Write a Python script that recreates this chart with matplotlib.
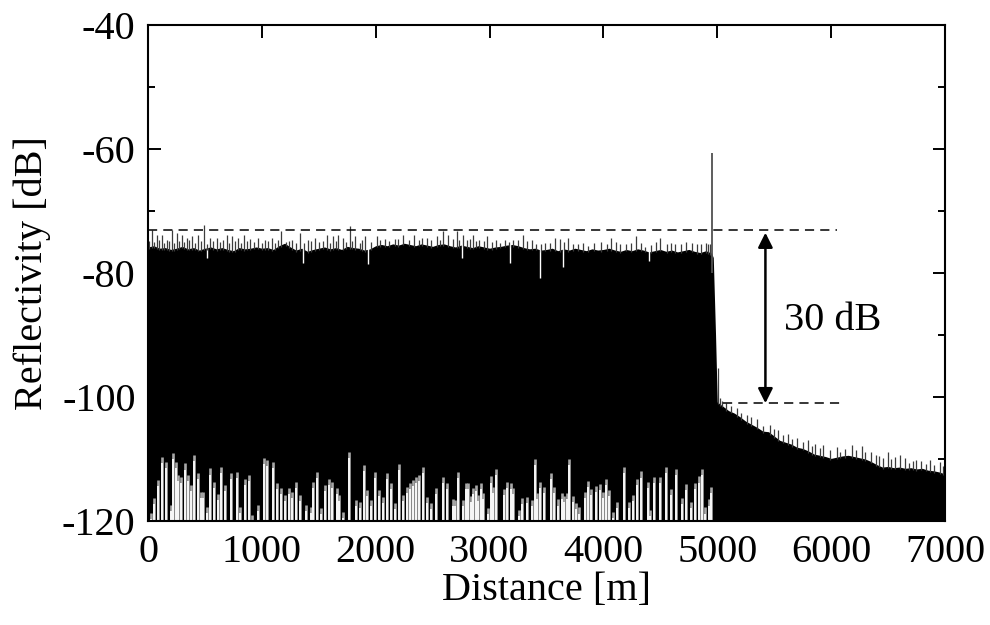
import numpy as np
import matplotlib.pyplot as plt

plt.rcParams['font.family'] = ['Liberation Serif', 'DejaVu Serif']
plt.rcParams['axes.unicode_minus'] = False

# upper edge of the noise floor, read every 50 m (0 .. 4950 m)
body_db = [
    -75.8, -75.6, -76.0, -75.9, -76.2, -76.0, -75.7, -76.1, -75.9, -76.3,
    -76.0, -75.8, -76.1, -75.9, -76.2, -76.4, -75.9, -76.1, -76.0, -75.8,
    -76.0, -75.9, -76.2, -75.6, -75.2, -75.8, -76.3, -76.0, -76.5, -76.2,
    -76.0, -75.8, -76.1, -75.9, -76.2, -75.7, -75.9, -76.0, -76.3, -76.1,
    -75.6, -75.4, -75.6, -75.3, -75.5, -75.2, -75.4, -75.6, -75.3, -75.5,
    -75.7, -75.4, -75.3, -75.6, -75.8, -75.5, -75.7, -75.9, -75.6, -75.8,
    -76.0, -75.8, -75.7, -75.5, -75.4, -75.6, -75.9, -76.1, -76.0, -76.3,
    -76.2, -76.0, -76.4, -76.1, -76.3, -76.0, -76.2, -76.4, -76.1, -76.3,
    -76.2, -76.0, -76.3, -76.5, -76.2, -76.4, -76.1, -76.3, -76.6, -76.4,
    -76.2, -76.5, -76.3, -76.6, -76.4, -76.2, -76.5, -76.7, -76.4, -76.8,
]
# fiber end (sharp drop)
edge_dist = [4965, 4985]
edge_db = [-77.5, -90.0]
# after the fiber end, every 50 m (5000 .. 7000 m)
tail_db = [
    -100.8, -101.5, -102.2, -102.6, -103.2, -103.9, -104.4, -104.9, -105.5, -105.6,
    -106.3, -107.0, -107.3, -107.6, -108.1, -108.3, -108.7, -109.2, -109.4, -109.6,
    -109.9, -109.7, -109.5, -109.4, -109.6, -109.8, -110.0, -110.4, -110.9, -111.3,
    -111.2, -111.4, -111.3, -111.5, -111.4, -111.6, -111.5, -111.8, -111.9, -112.1,
    -112.4,
]

# thin peaks sticking out above the floor
spike_dist = [
    12, 32, 55, 76, 98, 120, 142, 164, 186, 208, 230, 252, 274, 296, 318, 340,
    362, 384, 410, 436, 465, 495, 520, 544, 575, 603, 630, 660, 691, 715, 740,
    765, 793, 820, 846, 870, 896, 930, 969, 1000, 1027, 1055, 1086, 1115, 1140,
    1168, 1210, 1235, 1261, 1300, 1334, 1370, 1408, 1435, 1466, 1500, 1540, 1569,
    1600, 1627, 1650, 1671, 1715, 1740, 1773, 1795, 1817, 1860, 1880, 1905, 1960,
    2013, 2040, 2081, 2120, 2168, 2200, 2241, 2290, 2335, 2380, 2410, 2452, 2490,
    2535, 2565, 2593, 2637, 2680, 2710, 2735, 2763, 2800, 2830, 2856, 2880, 2909,
    2950, 2979, 3020, 3055, 3095, 3134, 3170, 3207, 3250, 3295, 3330, 3369, 3410,
    3450, 3485, 3530, 3573, 3617, 3650, 3690, 3730, 3780, 3820, 3866, 3920, 3983,
    4030, 4071, 4110, 4144, 4200, 4240, 4284, 4330, 4363, 4420, 4460, 4495, 4560,
    4590, 4627, 4680, 4729, 4780, 4820, 4861, 4900, 4920, 4940,
    5004, 5020, 5040, 5080, 5120, 5171, 5210, 5260, 5300, 5350, 5400, 5461, 5500,
    5531, 5580, 5620, 5660, 5700, 5750, 5795, 5830, 5860, 5900, 5926, 5990, 6049,
    6080, 6120, 6181, 6220, 6269, 6300, 6350, 6390, 6420, 6460, 6497, 6530, 6560,
    6602, 6646, 6680, 6720, 6750, 6790, 6830, 6866, 6900, 6953, 6980,
]
spike_db = [
    -74.8, -73.1, -75.0, -73.9, -74.6, -73.9, -75.2, -74.7, -74.9, -73.1, -75.1,
    -73.6, -74.8, -73.9, -75.0, -74.4, -74.6, -74.1, -75.2, -73.9, -74.9, -72.2,
    -75.3, -74.3, -74.8, -74.4, -75.0, -74.7, -73.8, -75.1, -74.0, -74.9, -74.4,
    -75.2, -73.8, -74.8, -74.5, -75.0, -74.3, -75.1, -74.7, -74.9, -74.4, -75.2,
    -74.6, -73.3, -75.0, -74.8, -74.7, -75.1, -73.6, -75.2, -74.7, -74.9, -74.4,
    -75.0, -74.8, -73.9, -75.1, -74.1, -74.9, -73.8, -74.4, -75.0, -72.4, -74.8,
    -74.1, -75.2, -74.7, -74.1, -75.0, -74.1, -74.6, -74.5, -74.8, -74.5, -74.5,
    -73.9, -74.7, -73.9, -74.6, -74.4, -74.4, -74.7, -74.0, -74.6, -73.2, -73.9,
    -74.5, -73.2, -74.7, -73.9, -74.6, -74.5, -73.9, -74.8, -74.7, -74.9, -74.1,
    -75.0, -74.7, -75.1, -74.7, -75.0, -74.7, -74.7, -73.8, -74.9, -74.7, -75.3,
    -75.4, -75.1, -75.2, -74.3, -74.5, -75.0, -74.4, -75.3, -75.4, -75.2, -75.6,
    -75.1, -75.0, -75.3, -74.3, -75.0, -75.3, -75.4, -75.1, -74.1, -75.2, -75.8,
    -75.5, -75.0, -74.3, -75.4, -75.1, -75.3, -75.3, -75.0, -75.2, -75.4, -75.3,
    -75.1, -75.4, -75.3,
    -95.3, -100.2, -100.6, -100.9, -101.4, -101.8, -102.6, -102.9, -103.3, -103.6,
    -104.6, -104.5, -105.2, -105.3, -106.2, -106.0, -106.7, -106.6, -107.3, -106.9,
    -107.9, -107.6, -108.3, -107.7, -108.6, -108.1, -108.8, -108.4, -107.7, -108.6,
    -107.9, -108.9, -108.8, -109.3, -109.5, -109.9, -108.9, -110.0, -109.6, -109.4,
    -109.9, -110.6, -110.3, -110.2, -110.4, -110.8, -110.2, -111.0, -110.5, -111.2,
]
# reflection peak at the fiber end
peak_dist = 4957
peak_db = -60.6

# narrow dips below the floor edge
dip_dist = [515, 1360, 1930, 2760, 3178, 3440, 3644, 4400]
dip_db = [-77.6, -78.4, -78.5, -77.6, -78.4, -80.8, -79.0, -78.0]

# white gaps near the bottom of the trace
gap_dist = [
    26, 55, 85, 126, 155, 199, 222, 246, 266, 290, 325, 354, 377, 407, 442, 465,
    486, 521, 544, 579, 617, 641, 676, 729, 779, 808, 852, 887, 910, 969, 1021,
    1042, 1100, 1130, 1168, 1203, 1238, 1261, 1296, 1334, 1384, 1428, 1452, 1487,
    1519, 1554, 1589, 1613, 1657, 1680, 1715, 1768, 1826, 1861, 1896, 1920, 1958,
    1993, 2030, 2060, 2101, 2130, 2168, 2207, 2242, 2271, 2300, 2324, 2353, 2382,
    2417, 2452, 2490, 2529, 2587, 2628, 2675, 2695, 2724, 2768, 2792, 2812, 2833,
    2856, 2880, 2900, 2924, 2944, 2988, 3011, 3032, 3055, 3126, 3155, 3184, 3202,
    3260, 3281, 3330, 3377, 3398, 3418, 3442, 3477, 3544, 3565, 3597, 3632, 3656,
    3676, 3699, 3729, 3755, 3787, 3837, 3866, 3895, 3939, 3974, 3998, 4021, 4050,
    4080, 4120, 4179, 4223, 4261, 4296, 4326, 4392, 4413, 4442, 4495, 4548, 4598,
    4642, 4691, 4729, 4773, 4808, 4840, 4866, 4890, 4928, 4949,
]
gap_db = [
    -118.7, -116.3, -113.4, -109.7, -110.5, -117.4, -109.0, -110.5, -112.6, -112.9,
    -110.7, -112.6, -114.2, -109.4, -112.3, -115.3, -115.3, -117.7, -111.5, -113.7,
    -115.6, -111.3, -114.2, -112.3, -112.1, -117.7, -113.2, -112.6, -119.0, -117.4,
    -109.8, -110.2, -110.5, -113.9, -114.7, -115.8, -114.7, -115.3, -113.7, -115.8,
    -117.4, -117.7, -113.7, -112.1, -117.9, -114.2, -113.2, -113.7, -114.7, -115.8,
    -118.5, -108.8, -116.6, -116.9, -111.0, -115.0, -116.6, -112.1, -115.0, -116.1,
    -112.3, -113.9, -117.1, -110.8, -115.8, -114.5, -113.9, -113.4, -112.9, -112.6,
    -111.3, -116.1, -117.1, -114.7, -112.9, -113.9, -116.5, -116.6, -112.1, -116.6,
    -113.9, -113.9, -116.0, -114.7, -114.2, -115.8, -113.9, -115.5, -117.9, -112.8,
    -114.5, -111.6, -114.8, -113.7, -113.9, -114.7, -118.2, -116.3, -116.1, -116.6,
    -110.0, -115.5, -113.7, -114.5, -112.3, -114.5, -116.5, -115.5, -116.0, -115.5,
    -110.0, -116.0, -117.1, -117.8, -115.3, -113.5, -114.8, -114.4, -114.0, -115.3,
    -113.2, -115.0, -118.5, -116.9, -111.3, -116.9, -115.8, -113.2, -112.0, -113.7,
    -118.2, -112.9, -112.9, -111.3, -114.8, -111.6, -116.3, -114.0, -116.9, -113.9,
    -112.8, -111.6, -117.8, -116.5, -114.5,
]

upper_ref = -73.0
lower_ref = -101.0

dist = np.concatenate([np.arange(0, 5000, 50), edge_dist, np.arange(5000, 7001, 50)])
trace = np.concatenate([body_db, edge_db, tail_db])

fig = plt.figure(figsize=(9.9, 6.25), dpi=100)
ax = fig.add_axes([0.1495, 0.1664, 0.805, 0.7936])

ax.fill_between(dist, trace, -120, color='black', lw=0, zorder=1)
ax.vlines(dip_dist, dip_db, -73.5, color='white', lw=1.0, zorder=2)
# peaks start from the floor edge so they only show above it
spike_base = np.interp(spike_dist, dist, trace) - 0.3
ax.vlines(spike_dist, spike_base, spike_db, color='#3c3c3c', lw=0.9, zorder=2)
ax.vlines(peak_dist, -80, peak_db, color='#505050', lw=1.3, zorder=2)
ax.vlines(gap_dist, -120, gap_db, color='#a8a8a8', lw=1.9, zorder=3)
ax.vlines(gap_dist, -120, np.array(gap_db) - 1.0, color='white', lw=1.3, zorder=3)

# reference levels and 30 dB marker
ax.plot([0, 6050], [upper_ref, upper_ref], color='black', lw=1.1,
        dashes=(6, 4), zorder=4)
ax.plot([5050, 6090], [lower_ref, lower_ref], color='black', lw=1.1,
        dashes=(6, 4), zorder=4)
ax.annotate('', xy=(5423, upper_ref - 0.5), xytext=(5423, lower_ref),
            arrowprops=dict(arrowstyle='<|-|>', color='black', lw=1.8,
                            mutation_scale=22, shrinkA=0, shrinkB=0), zorder=5)
ax.text(6010, -87.6, '30 dB', fontsize=29, ha='center', va='center')

ax.set_xlim(0, 7000)
ax.set_ylim(-120, -40)
ax.set_xticks(np.arange(0, 7001, 1000))
ax.set_yticks(np.arange(-120, -39, 20))
ax.set_yticks(np.arange(-110, -40, 20), minor=True)
ax.tick_params(which='both', direction='in', top=True, right=True,
               labelsize=29, width=1.4)
ax.tick_params(which='major', length=9, pad=9)
ax.tick_params(which='minor', length=5)
for s in ax.spines.values():
    s.set_linewidth(1.5)
    s.set_zorder(6)

ax.set_xlabel('Distance [m]', fontsize=29, labelpad=1)
ax.set_ylabel('Reflectivity [dB]', fontsize=29, labelpad=8)

fig.savefig('out.png', dpi=100)
